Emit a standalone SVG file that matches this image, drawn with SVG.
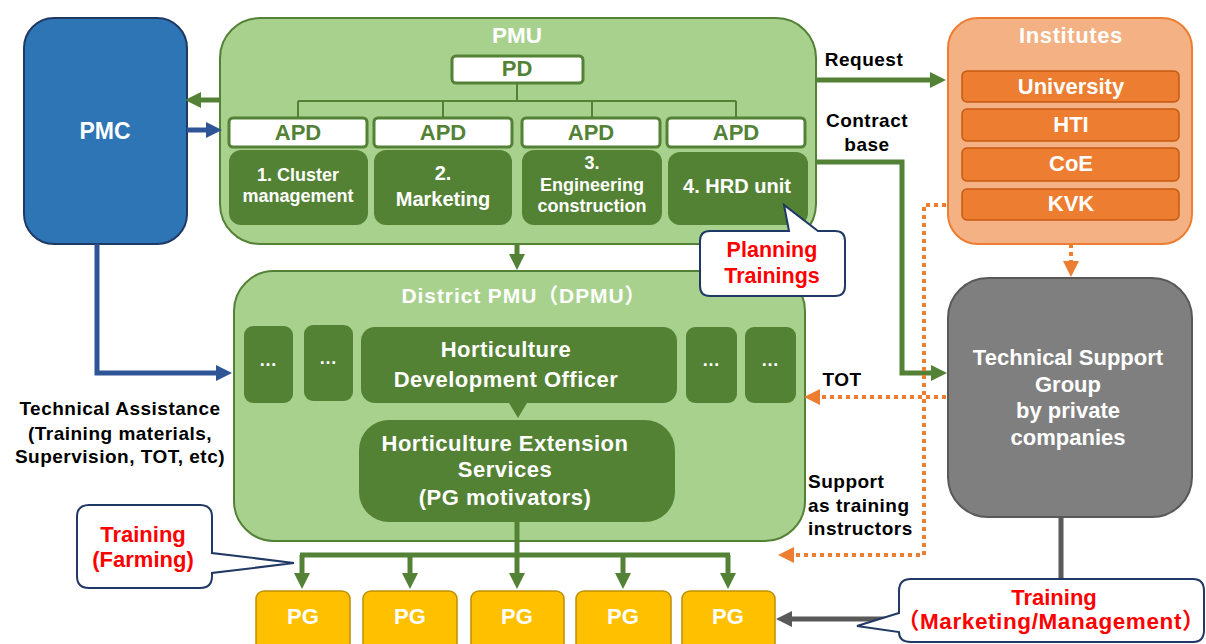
<svg xmlns="http://www.w3.org/2000/svg" width="1206" height="644" viewBox="0 0 1206 644">
<defs>
<style>
text{font-family:"Liberation Sans","Noto Sans CJK JP",sans-serif;font-weight:bold;text-anchor:middle}
.w{fill:#ffffff}
.g{fill:#538135}
.k{fill:#000000;font-size:19px;letter-spacing:0.5px}
.r{fill:#ff0000}
.lg{fill:#A9D18E;stroke:#538135;stroke-width:2}
.dg{fill:#548235;stroke:none}
.wb{fill:#ffffff;stroke:#538135;stroke-width:3}
.inst{fill:#ED7D31;stroke:#C55A11;stroke-width:1.5}
.pg{fill:#FFC000;stroke:#BF9000;stroke-width:1.5}
.call{fill:#ffffff;stroke:#203864;stroke-width:2}
.gl{fill:none;stroke:#538135;stroke-width:5}
.bl{fill:none;stroke:#2F5597;stroke-width:5}
.ol{fill:none;stroke:#ED7D31;stroke-width:4;stroke-dasharray:4 4}
.yl{fill:none;stroke:#595959;stroke-width:5}
.tree{fill:none;stroke:#538135;stroke-width:2}
.ls{letter-spacing:0.5px}
</style>
<marker id="ag" markerUnits="userSpaceOnUse" markerWidth="16" markerHeight="16" viewBox="0 0 16 16" refX="0" refY="8" orient="auto"><path d="M0,0 L16,8 L0,16 Z" fill="#538135"/></marker>
<marker id="ab" markerUnits="userSpaceOnUse" markerWidth="16" markerHeight="16" viewBox="0 0 16 16" refX="0" refY="8" orient="auto"><path d="M0,0 L16,8 L0,16 Z" fill="#2F5597"/></marker>
<marker id="ao" markerUnits="userSpaceOnUse" markerWidth="16" markerHeight="16" viewBox="0 0 16 16" refX="0" refY="8" orient="auto"><path d="M0,0 L16,8 L0,16 Z" fill="#ED7D31"/></marker>
<marker id="ay" markerUnits="userSpaceOnUse" markerWidth="16" markerHeight="16" viewBox="0 0 16 16" refX="0" refY="8" orient="auto"><path d="M0,0 L16,8 L0,16 Z" fill="#595959"/></marker>
</defs>
<rect width="1206" height="644" fill="#ffffff"/>

<g id="pmc">
<rect x="24" y="18" width="163" height="226" rx="30" fill="#2E75B6" stroke="#203864" stroke-width="2"/>
<text x="105" y="139" class="w" font-size="23">PMC</text>
</g>

<g id="pmu">
<rect x="220" y="18" width="596" height="226" rx="40" class="lg"/>
<text x="517" y="43" class="w" font-size="22.5">PMU</text>
<path class="tree" d="M517,83 V101 M298,101 H736 M298,101 V118 M443,101 V118 M592,101 V118 M736,101 V118"/>
<g id="pd"><rect x="452" y="56" width="131" height="27" rx="4" class="wb"/><text x="517" y="76" class="g" font-size="22">PD</text></g>
<g id="apd1"><rect x="229" y="118" width="138" height="29" rx="4" class="wb"/><text x="298" y="140" class="g" font-size="22">APD</text></g>
<g id="apd2"><rect x="374" y="118" width="138" height="29" rx="4" class="wb"/><text x="443" y="140" class="g" font-size="22">APD</text></g>
<g id="apd3"><rect x="522" y="118" width="138" height="29" rx="4" class="wb"/><text x="591" y="140" class="g" font-size="22">APD</text></g>
<g id="apd4"><rect x="667" y="118" width="138" height="29" rx="4" class="wb"/><text x="736" y="140" class="g" font-size="22">APD</text></g>
<g id="unit1"><rect x="229" y="150" width="139" height="75" rx="12" class="dg"/><text x="298" y="181" class="w" font-size="18">1. Cluster</text><text x="298" y="202" class="w" font-size="18">management</text></g>
<g id="unit2"><rect x="374" y="150" width="138" height="75" rx="12" class="dg"/><text x="443" y="180" class="w" font-size="20">2.</text><text x="443" y="206" class="w" font-size="20">Marketing</text></g>
<g id="unit3"><rect x="522" y="150" width="140" height="75" rx="12" class="dg"/><text x="592" y="169" class="w" font-size="18">3.</text><text x="592" y="191" class="w" font-size="18">Engineering</text><text x="592" y="212" class="w" font-size="18">construction</text></g>
<g id="unit4"><rect x="668" y="152" width="140" height="73" rx="12" class="dg"/><text x="737" y="193" class="w" font-size="20">4. HRD unit</text></g>
</g>

<g id="institutes">
<rect x="948" y="18" width="244" height="226" rx="30" fill="#F4B183" stroke="#ED7D31" stroke-width="2"/>
<text x="1071" y="43" class="w" font-size="22" style="letter-spacing:0.6px">Institutes</text>
<g id="univ"><rect x="962" y="71" width="217" height="31" rx="5" class="inst"/><text x="1071" y="94" class="w" font-size="22">University</text></g>
<g id="hti"><rect x="962" y="109" width="217" height="32" rx="5" class="inst"/><text x="1071" y="132" class="w" font-size="22">HTI</text></g>
<g id="coe"><rect x="962" y="148" width="217" height="33" rx="5" class="inst"/><text x="1071" y="171" class="w" font-size="22">CoE</text></g>
<g id="kvk"><rect x="962" y="189" width="217" height="31" rx="5" class="inst"/><text x="1071" y="211" class="w" font-size="22">KVK</text></g>
</g>

<g id="dpmu">
<rect x="234" y="271" width="571" height="270" rx="40" class="lg"/>
<text x="524" y="303" class="w" font-size="21" style="letter-spacing:0.9px">District PMU（DPMU）</text>
<g id="d1"><rect x="244" y="326" width="49" height="77" rx="9" class="dg"/><text x="268" y="366" class="w" font-size="18">…</text></g>
<g id="d2"><rect x="304" y="325" width="49" height="76" rx="9" class="dg"/><text x="328" y="364" class="w" font-size="18">…</text></g>
<g id="hdo"><rect x="361" y="327" width="316" height="76" rx="14" class="dg"/><text x="506" y="357" class="w ls" font-size="22">Horticulture</text><text x="506" y="387" class="w ls" font-size="22">Development Officer</text></g>
<g id="d3"><rect x="686" y="327" width="51" height="76" rx="9" class="dg"/><text x="711" y="366" class="w" font-size="18">…</text></g>
<g id="d4"><rect x="745" y="327" width="51" height="76" rx="9" class="dg"/><text x="770" y="366" class="w" font-size="18">…</text></g>
<g id="hes"><rect x="359" y="420" width="316" height="102" rx="30" class="dg"/><text x="505" y="451" class="w ls" font-size="22">Horticulture Extension</text><text x="505" y="477" class="w ls" font-size="22">Services</text><text x="505" y="505" class="w ls" font-size="22">(PG motivators)</text></g>
</g>

<g id="tsg">
<rect x="948" y="278" width="244" height="239" rx="40" fill="#7F7F7F" stroke="#595959" stroke-width="2"/>
<text x="1068" y="365" class="w" font-size="22">Technical Support</text>
<text x="1068" y="392" class="w" font-size="22">Group</text>
<text x="1068" y="418" class="w" font-size="22">by private</text>
<text x="1068" y="445" class="w" font-size="22">companies</text>
</g>

<g id="pgs">
<g id="pg1"><rect x="256" y="591" width="94" height="62" rx="8" class="pg"/><text x="303" y="624" class="w" font-size="22">PG</text></g>
<g id="pg2"><rect x="363" y="591" width="94" height="62" rx="8" class="pg"/><text x="410" y="624" class="w" font-size="22">PG</text></g>
<g id="pg3"><rect x="471" y="591" width="93" height="62" rx="8" class="pg"/><text x="517" y="624" class="w" font-size="22">PG</text></g>
<g id="pg4"><rect x="576" y="591" width="95" height="62" rx="8" class="pg"/><text x="623" y="624" class="w" font-size="22">PG</text></g>
<g id="pg5"><rect x="682" y="591" width="93" height="62" rx="8" class="pg"/><text x="728" y="624" class="w" font-size="22">PG</text></g>
</g>

<g id="connectors">
<path class="gl" d="M220,100 H201" marker-end="url(#ag)"/>
<path class="bl" d="M187,130 H206" marker-end="url(#ab)"/>
<path class="bl" d="M97,244 V373 H216" marker-end="url(#ab)"/>
<path class="gl" d="M517,244 V254" marker-end="url(#ag)"/>
<path class="gl" d="M816,80 H930" marker-end="url(#ag)"/>
<path class="gl" d="M816,162 H902 V373 H931" marker-end="url(#ag)"/>
<path d="M509,403 L527,403 L518,418 Z" fill="#548235"/>
<path class="gl" d="M517,522 V555 M300,555 H730"/>
<path class="gl" d="M302,555 V573" marker-end="url(#ag)"/>
<path class="gl" d="M410,555 V573" marker-end="url(#ag)"/>
<path class="gl" d="M517,555 V573" marker-end="url(#ag)"/>
<path class="gl" d="M623,555 V573" marker-end="url(#ag)"/>
<path class="gl" d="M728,555 V573" marker-end="url(#ag)"/>
<path class="ol" d="M1071,244 V261" marker-end="url(#ao)"/>
<path class="ol" d="M946,397 H820" marker-end="url(#ao)"/>
<path class="ol" d="M946,205 H924 V555 H794" marker-end="url(#ao)"/>
<path class="yl" d="M1061,517 V619 H792" marker-end="url(#ay)"/>
</g>

<g id="labels">
<text x="864" y="66" class="k">Request</text>
<text x="867" y="127" class="k">Contract</text>
<text x="867" y="151" class="k">base</text>
<text x="842" y="386" class="k">TOT</text>
<text x="808" y="488" class="k" style="text-anchor:start">Support</text>
<text x="808" y="512" class="k" style="text-anchor:start">as training</text>
<text x="808" y="535" class="k" style="text-anchor:start">instructors</text>
<text x="120" y="415" class="k">Technical Assistance</text>
<text x="120" y="440" class="k">(Training materials,</text>
<text x="120" y="463" class="k">Supervision, TOT, etc)</text>
</g>

<g id="callout-planning">
<path class="call" d="M710,231 H789 L784,205 L818,231 H835 Q845,231 845,241 V286 Q845,296 835,296 H710 Q700,296 700,286 V241 Q700,231 710,231 Z"/>
<text x="772" y="257" class="r" font-size="21.5">Planning</text>
<text x="772" y="283" class="r" font-size="21.5">Trainings</text>
</g>
<g id="callout-farming">
<path class="call" d="M89,505 H200 Q212,505 212,517 V553 L294,563 L212,573 V576 Q212,588 200,588 H89 Q77,588 77,576 V517 Q77,505 89,505 Z"/>
<text x="143" y="542" class="r" font-size="22">Training</text>
<text x="143" y="567" class="r" font-size="22">(Farming)</text>
</g>
<g id="callout-marketing">
<path class="call" d="M911,579 H1193 Q1204,579 1204,591 V630 Q1204,642 1193,642 H911 Q899,642 899,632 L857,626 L899,613 V591 Q899,579 911,579 Z"/>
<text x="1054" y="605" class="r" font-size="22">Training</text>
<text x="1051" y="629" class="r" font-size="22.5" style="letter-spacing:0.6px">（Marketing/Management）</text>
</g>
</svg>
